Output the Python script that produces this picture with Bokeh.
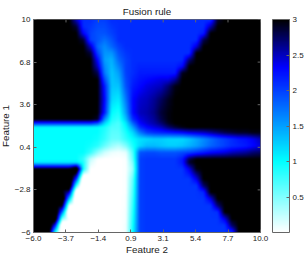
from bokeh.plotting import figure
from bokeh.models import (ColorBar, FixedTicker, LinearColorMapper, Range1d)
from bokeh.embed import file_html
from bokeh.resources import INLINE
import numpy as np

title_text = "Fusion rule"
x_label = "Feature 2"
y_label = "Feature 1"
x_ticks = [-6, -3.71, -1.43, 0.86, 3.14, 5.43, 7.71, 10]
x_tick_labels = ["\u22126.0", "\u22123.7", "\u22121.4", "0.9", "3.1", "5.4", "7.7", "10.0"]
y_ticks = [-6, -2.8, 0.4, 3.6, 6.8, 10]
y_tick_labels = ["\u22126", "\u22122.8", "0.4", "3.6", "6.8", "10"]
bar_ticks = [0.5, 1, 1.5, 2, 2.5, 3]
bar_tick_labels = ["0.5", "1", "1.5", "2", "2.5", "3"]

# colour stops of the map: (value, colour)
stop_values = [0, 1, 2.33, 3]
stop_colors = [(255, 255, 255), (0, 255, 255), (0, 0, 255), (0, 0, 0)]

grid_x = [-6 + 0.5 * i for i in range(33)]
grid_y = [10, 9.5, 9, 8.5, 8, 7.5, 7, 6.5, 6, 5.5, 5, 4, 3, 2.5, 2.2, 1.9, 1.5, 1, 0.5, 0, -0.5, -0.75, -1.25,
          -2, -2.5, -3, -3.5, -4, -4.5, -5, -5.5, -6]
field = [
 [3]*6+[2.5,2.1,2.1,2.0,2.0]+[2.1]*14+[2.1,2.88]+[3]*6,
 [3]*6+[2.86,2.1,2.05,1.95,1.95,2.05]+[2.1]*12+[2.1,2.54,3]+[3]*6,
 [3]*6+[3,2.32,2.0,1.9,1.9,2.0]+[2.1]*12+[2.18,3]+[3]*7,
 [3]*7+[2.86,2.0,1.9,1.75,1.9]+[2.1]*11+[2.1,2.79,3]+[3]*7,
 [3]*7+[3,2.5,1.8,1.6,1.8,2.0]+[2.1]*10+[2.42,3]+[3]*8,
 [3]*8+[2.86,2.0,1.55,1.55,1.9,2.05]+[2.1]*8+[2.1,3]+[3]*9,
 [3]*9+[2.3,1.5,1.4,1.8,2.0]+[2.1]*8+[2.69,3]+[3]*9,
 [3]*9+[2.5,1.6,1.35,1.65,2.0,2.1]+[2.15]*5+[2.15,2.3,3]+[3]*10,
 [3]*9+[2.8,1.7,1.3,1.5,2.0,2.1]+[2.2]*5+[2.2,2.92]+[3]*11,
 [3]*10+[1.95,1.3,1.4,1.95,2.15,2.25,2.3,2.35,2.4,2.4,2.6,3]+[3]*11,
 [3]*10+[2.2,1.3,1.3,1.9,2.2,2.3,2.4,2.45,2.5,2.7,2.95]+[3]*12,
 [3]*10+[2.3,1.2,1.1,1.7,2.3,2.45,2.5,2.6,2.75,2.9,3]+[3]*12,
 [3]*10+[2.2,1.0,0.9,1.5,2.3,2.5,2.55,2.65,2.85,2.95,3]+[3]*12,
 [3]*9+[2.9,1.6,0.9,0.8,1.3,2.1,2.4,2.5,2.6,2.8,2.95,3]+[3]*12,
 [2.1]*9+[1.9,1.2,0.8,0.7,1.1,1.8,2.3,2.45,2.55,2.7,2.9,3]+[3]*12,
 [1]*8+[1,1,0.9,0.7,0.7,1.0,1.5,2.1,2.3,2.4,2.5,2.7,2.85,2.95]+[3]*11,
 [1]*8+[1,1,0.85,0.65,0.65,0.9,1.2,1.7,2.0,2.1,2.15,2.2,2.25,2.3,2.4,2.45,2.5,2.6,2.7,2.8,2.85,2.9,2.9,2.95,2.95],
 [1]*8+[1,0.95,0.8,0.6,0.6,0.8,1.0,1.15,1.2,1.25,1.25,1.2,1.2,1.2,1.3,1.45,1.6,1.75,1.9,2.0,2.1,2.2,2.25,2.35,2.5],
 [1]*8+[0.95,0.85,0.6,0.4,0.3,0.5,0.9,1.2,1.35,1.35,1.3,1.25,1.25,1.3,1.4,1.5,1.65,1.8,1.9,2.0,2.1,2.15,2.2,2.3,2.4],
 [1]*7+[1,0.8,0.45,0.2,0.08,0.05,0.1,0.7,1.9,1.95,1.95,1.9,1.9,1.9,1.95,2.0,2.1,2.2,2.3,2.35,2.4,2.5,2.55,2.6,2.7,2.75],
 [1]*7+[0.8,0.25,0.03,0,0,0,0.02,0.6,2.0,2.05,2.05,2.05,2.05,2.05,2.2,2.8]+[3]*10,
 [1.1]*7+[0.9,0.15,0,0,0,0,0.02,0.5,2.0]+[2.05]*5+[2.2,2.9]+[3]*10,
 [3]*6+[3.6,0.9,0,0,0,0,0,0.02,0.4,2.0]+[2.05]*6+[2.4,2.95]+[3]*9,
 [3]*5+[3.6,2.04,-0.6,0,0,0,0,0,0.02,0.6,2.0]+[2.05]*7+[2.39,3]+[3]*8,
 [3]*5+[3.6,0.78,-0.6,0,0,0,0,0,0.02,0.65,2.0]+[2.05]*7+[2.05,2.73,3]+[3]*7,
 [3]*5+[2.52,-0.48,0,0,0,0,0,0,0.02,0.7,2.0]+[2.05]*8+[2.12,3]+[3]*7,
 [3]*4+[3.6,1.26,-0.6,0,0,0,0,0,0,0.03,0.75,2.0]+[2.05]*8+[2.05,2.4,3]+[3]*6,
 [3]*4+[3,0,0,0,0,0,0,0,0,0.03,0.8,2.0]+[2.05]*9+[2.05,2.69,3]+[3]*5,
 [3]*3+[3.6,1.74,-0.6,0,0,0,0,0,0,0,0.04,0.85,2.0]+[2.05]*10+[2.08,3]+[3]*5,
 [3]*3+[3.48,0.48,0,0,0,0,0,0,0,0,0.04,0.9,2.0]+[2.05]*11+[2.4,3]+[3]*4,
 [3]*2+[3.6,2.22,-0.6,0,0,0,0,0,0,0,0,0.05,0.95,2.0]+[2.05]*11+[2.05,2.73,3]+[3]*3,
 [3]*2+[3.6,0.96,-0.6,0,0,0,0,0,0,0,0,0.05,1.0,2.0]+[2.05]*12+[2.12,3]+[3]*3,
]
for row in field:
    assert len(row) == 33, len(row)
assert len(field) == len(grid_y)


def build_palette():
    vals = np.linspace(0, 3, 256)
    rgb = np.array(stop_colors, dtype=float)
    chans = [np.interp(vals, stop_values, rgb[:, c]) for c in range(3)]
    return ["#%02x%02x%02x" % (int(round(r)), int(round(g)), int(round(b))) for r, g, b in zip(*chans)]


def soften(a):
    k = [0.25, 0.5, 0.25]
    padded = np.pad(a, 1, mode="edge")
    b = np.apply_along_axis(lambda m: np.convolve(m, k, mode="same"), 0, padded)
    b = np.apply_along_axis(lambda m: np.convolve(m, k, mode="same"), 1, b)
    return b[1:-1, 1:-1]


def smooth(grid, xs, ys, nx, ny):
    """Shade the sampled field smoothly for display (like MATLAB's shading interp)."""
    g = np.array(grid, dtype=float)[::-1]
    ya = np.array(ys, dtype=float)[::-1]
    tx = np.linspace(xs[0], xs[-1], nx)
    ty = np.linspace(ya[0], ya[-1], ny)
    a = np.array([np.interp(tx, xs, r) for r in g])
    out = np.array([np.interp(ty, ya, a[:, j]) for j in range(nx)]).T
    return soften(np.clip(out, 0, 3))


ink = "#222222"
edge = "#666666"
font = "Liberation Sans"

mapper = LinearColorMapper(palette=build_palette(), low=0, high=3)

p = figure(width=310, height=261, output_backend="svg", toolbar_location=None,
           x_range=Range1d(-6, 10), y_range=Range1d(-6, 10),
           min_border_left=33, min_border_right=46, min_border_top=19, min_border_bottom=29,
           margin=(0, 0, 0, -4), title=title_text)
p.grid.visible = False
p.outline_line_color = edge
p.title.align = "center"
p.title.text_font = font
p.title.text_font_size = "9.8px"
p.title.text_font_style = "normal"
p.title.text_color = ink
p.title.offset = 0
p.title.standoff = 6

p.image(image=[smooth(field, grid_x, grid_y, 227, 213)], x=-6, y=-6, dw=16, dh=16, color_mapper=mapper)

# inward ticks on the top and right edges of the box
tick_dx = 0.2
tick_dy = 0.22
p.segment(x0=x_ticks, x1=x_ticks, y0=[y_ticks[-1]] * len(x_ticks), y1=[y_ticks[-1] - tick_dy] * len(x_ticks),
          line_color=edge, line_width=1)
p.segment(x0=[x_ticks[-1]] * len(y_ticks), x1=[x_ticks[-1] - tick_dx] * len(y_ticks), y0=y_ticks, y1=y_ticks,
          line_color=edge, line_width=1)


def style(ax):
    ax.axis_line_color = edge
    ax.major_tick_line_color = edge
    ax.major_tick_in = 3
    ax.major_tick_out = 0
    ax.minor_tick_line_color = None
    ax.major_label_text_font = font
    ax.major_label_text_font_size = "8px"
    ax.major_label_text_color = ink
    ax.axis_label_text_font = font
    ax.axis_label_text_font_size = "9.8px"
    ax.axis_label_text_font_style = "normal"
    ax.axis_label_text_color = ink


xa = p.xaxis[0]
xa.ticker = FixedTicker(ticks=x_ticks)
xa.major_label_overrides = dict(zip(x_ticks, x_tick_labels))
xa.axis_label = x_label
style(xa)
xa.major_label_standoff = 3
xa.axis_label_standoff = 0

ya = p.yaxis[0]
ya.ticker = FixedTicker(ticks=y_ticks)
ya.major_label_overrides = dict(zip(y_ticks, y_tick_labels))
ya.axis_label = y_label
style(ya)
ya.major_label_standoff = 3
ya.axis_label_standoff = 1

cb = ColorBar(color_mapper=mapper, width=17, height=213, padding=0, margin=0, location=(12, 0),
              ticker=FixedTicker(ticks=bar_ticks),
              major_label_overrides=dict(zip(bar_ticks, bar_tick_labels)),
              major_label_text_font=font, major_label_text_font_size="8px", major_label_text_color=ink,
              major_tick_line_color=edge, major_tick_in=3, minor_tick_line_color=None,
              bar_line_color=edge, label_standoff=3)
p.add_layout(cb, "right")

open("out.html", "w").write(file_html(p, INLINE))
